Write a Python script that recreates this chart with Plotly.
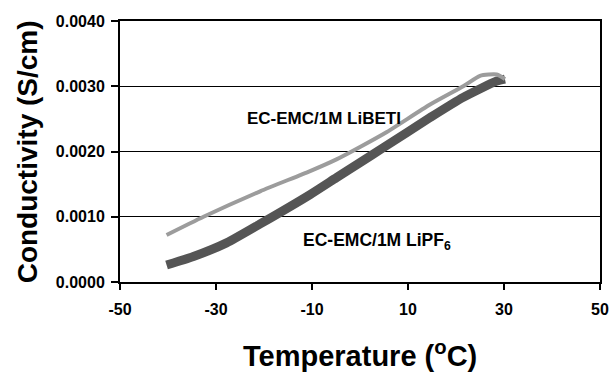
import plotly.graph_objects as go

# LiPF6 (dark, thick)
t_pf6 = [-40.3, -34.7, -27.8, -20.8, -10.4, -4.9, 0, 4.9, 14.6, 21.5, 28.5, 30.2]
c_pf6 = [0.00026, 0.00039, 0.00060, 0.00089, 0.00134, 0.00160, 0.00183, 0.00206, 0.00252, 0.00283, 0.00308, 0.00311]

# LiBETI (light gray, thin)
t_beti = [-40.3, -32.6, -20.8, -10.4, -4.9, 0, 5.6, 14.6, 21.5, 25, 28.5, 30.2]
c_beti = [0.00072, 0.00100, 0.00139, 0.00170, 0.00188, 0.00207, 0.00230, 0.00272, 0.00300, 0.00316, 0.00318, 0.00311]

x_ticks = [-50, -30, -10, 10, 30, 50]
y_ticks = [0.0, 0.001, 0.002, 0.003, 0.004]

FONT = "Liberation Sans, Arial, sans-serif"

fig = go.Figure()
fig.add_trace(go.Scatter(x=t_pf6, y=c_pf6, mode="lines",
                         line=dict(color="#555555", width=9, shape="spline", smoothing=0.6),
                         showlegend=False, hoverinfo="skip"))
fig.add_trace(go.Scatter(x=t_beti, y=c_beti, mode="lines",
                         line=dict(color="#9c9c9c", width=4, shape="spline", smoothing=0.6),
                         showlegend=False, hoverinfo="skip"))

fig.add_annotation(x=-7.5, y=0.00251, text="<b>EC-EMC/1M LiBETI</b>", showarrow=False,
                   font=dict(family=FONT, size=17, color="black"), xanchor="center", yanchor="middle")
fig.add_annotation(x=3.5, y=0.00062, text="<b>EC-EMC/1M LiPF<sub>6</sub></b>", showarrow=False,
                   font=dict(family=FONT, size=17.5, color="black"), xanchor="center", yanchor="middle")

# axis titles
fig.add_annotation(xref="paper", yref="paper", x=0.5, y=-0.275, text="<b>Temperature (<sup>o</sup>C)</b>",
                   showarrow=False, font=dict(family=FONT, size=29, color="black"),
                   xanchor="center", yanchor="middle")
fig.add_annotation(xref="paper", yref="paper", x=-0.192, y=0.5, text="<b>Conductivity (S/cm)</b>",
                   showarrow=False, textangle=-90, font=dict(family=FONT, size=28, color="black"),
                   xanchor="center", yanchor="middle")

fig.update_layout(
    width=610, height=375,
    margin=dict(l=120, r=10, t=21, b=93, autoexpand=False),
    paper_bgcolor="white", plot_bgcolor="white",
    font=dict(family=FONT, color="black"),
    xaxis=dict(range=[-50, 50], tickvals=x_ticks, ticktext=[f"<b>{v}</b>" for v in x_ticks],
               tickfont=dict(size=16), ticks="outside", ticklen=6, tickwidth=1.5, tickcolor="black",
               ticklabelstandoff=6,
               showline=True, linecolor="black", linewidth=2, mirror=True, showgrid=False, zeroline=False,
               automargin=False),
    yaxis=dict(range=[0, 0.004], tickvals=y_ticks, ticktext=[f"<b>{v:.4f}</b>" for v in y_ticks],
               tickfont=dict(size=16), ticks="outside", ticklen=7, tickwidth=1.5, tickcolor="black",
               ticklabelstandoff=3,
               showline=True, linecolor="black", linewidth=2, mirror=True,
               showgrid=True, gridcolor="black", gridwidth=1, zeroline=False,
               automargin=False),
)

fig.write_html(
    "out.html",
    config={"displayModeBar": False},
    post_script="document.documentElement.style.overflow='hidden';"
                "document.body.style.margin='0';document.body.style.overflow='hidden';",
)
